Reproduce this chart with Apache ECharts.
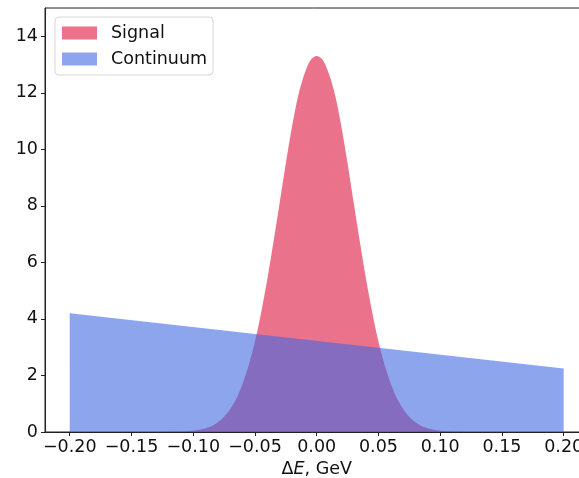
<!DOCTYPE html>
<html>
<head>
<meta charset="utf-8">
<script src="https://cdn.jsdelivr.net/npm/echarts@6/dist/echarts.min.js"></script>
<style>
  html, body { margin: 0; padding: 0; background: #fff; }
  #chart { width: 579px; height: 478px; }
</style>
</head>
<body>
<div id="chart"></div>
<script>
// ΔE grid for the signal peak (GeV)
const signalX = [-0.20, -0.15, -0.125, -0.12, -0.115, -0.11, -0.105, -0.10, -0.095, -0.09, -0.085, -0.08,
  -0.075, -0.07, -0.065, -0.06, -0.055, -0.05, -0.045, -0.04, -0.035, -0.03, -0.025, -0.02, -0.015,
  -0.01, -0.005, 0.0, 0.005, 0.01, 0.015, 0.02, 0.025, 0.03, 0.035, 0.04, 0.045, 0.05, 0.055, 0.06,
  0.065, 0.07, 0.075, 0.08, 0.085, 0.09, 0.095, 0.10, 0.105, 0.11, 0.115, 0.12, 0.125, 0.15, 0.20];
// Signal density
const signalY = [0, 0, 0.001, 0.003, 0.007, 0.013, 0.025, 0.044, 0.077, 0.131, 0.215, 0.345,
  0.54, 0.81, 1.19, 1.71, 2.37, 3.20, 4.22, 5.40, 6.72, 8.10, 9.50, 10.80, 11.90,
  12.66, 13.15, 13.30, 13.15, 12.66, 11.90, 10.80, 9.50, 8.10, 6.72, 5.40, 4.22, 3.20, 2.37, 1.71,
  1.19, 0.81, 0.54, 0.345, 0.215, 0.131, 0.077, 0.044, 0.025, 0.013, 0.007, 0.003, 0.001, 0, 0];
// Continuum background (linear in ΔE)
const continuumX = [-0.20, 0.20];
const continuumY = [4.20, 2.25];

const xTicks = [-0.20, -0.15, -0.10, -0.05, 0.00, 0.05, 0.10, 0.15, 0.20];
const yTicks = [0, 2, 4, 6, 8, 10, 12, 14];

const seriesNames = ['Signal', 'Continuum'];

const pair = (xs, ys) => xs.map((x, i) => [x, ys[i]]);

const font = 'DejaVu Sans';
const fs = 17.5;
const chart = echarts.init(document.getElementById('chart'), null, { renderer: 'canvas' });

chart.setOption({
  animation: false,
  backgroundColor: '#ffffff',
  grid: {
    left: 45, top: 8, width: 543.4, height: 424,
    outerBoundsMode: 'none',
    containLabel: false,
    show: true, borderColor: '#222', borderWidth: 1, backgroundColor: 'transparent'
  },
  legend: {
    left: 55, top: 17,
    orient: 'vertical',
    icon: 'rect',
    itemWidth: 35, itemHeight: 13, itemGap: 8,
    padding: [7, 6, 7, 7],
    borderColor: '#d6d6d6', borderWidth: 1, borderRadius: 4,
    backgroundColor: 'rgba(255,255,255,0.85)',
    textStyle: { fontFamily: font, fontSize: fs, color: '#111', padding: [0, 0, 0, 9] },
    data: seriesNames
  },
  xAxis: {
    type: 'value',
    min: -0.22, max: 0.22,
    name: '{d|Δ}{e|E}{d|, GeV}',
    nameLocation: 'middle',
    nameGap: 27,
    nameTextStyle: {
      fontFamily: font, fontSize: fs, color: '#111',
      rich: {
        d: { fontFamily: font, fontSize: fs, color: '#111' },
        e: { fontFamily: font, fontSize: fs, color: '#111', fontStyle: 'italic' }
      }
    },
    axisLine: { show: true, onZero: false, lineStyle: { color: '#222', width: 1 } },
    axisTick: { show: true, inside: false, length: 4, customValues: xTicks, lineStyle: { color: '#222' } },
    axisLabel: {
      customValues: xTicks,
      margin: 6,
      fontFamily: font, fontSize: fs, color: '#111',
      formatter: v => (v < 0 ? '\u2212' : '') + Math.abs(v).toFixed(2)
    },
    splitLine: { show: false }
  },
  yAxis: {
    type: 'value',
    min: 0, max: 15,
    axisLine: { show: true, onZero: false, lineStyle: { color: '#222', width: 1 } },
    axisTick: { show: true, inside: false, length: 4, customValues: yTicks, lineStyle: { color: '#222' } },
    axisLabel: {
      customValues: yTicks,
      margin: 7,
      fontFamily: font, fontSize: fs, color: '#111'
    },
    splitLine: { show: false }
  },
  series: [
    {
      name: seriesNames[0],
      type: 'line',
      data: pair(signalX, signalY),
      symbol: 'none',
      smooth: 0.3,
      itemStyle: { color: '#EA728A' },
      lineStyle: { width: 0 },
      areaStyle: { color: 'rgba(220,20,60,0.6)', opacity: 1 },
      z: 2
    },
    {
      name: seriesNames[1],
      type: 'line',
      data: pair(continuumX, continuumY),
      symbol: 'none',
      itemStyle: { color: '#8DA5ED' },
      lineStyle: { width: 0 },
      areaStyle: { color: 'rgba(65,105,225,0.6)', opacity: 1 },
      z: 3
    }
  ]
});
</script>
</body>
</html>
